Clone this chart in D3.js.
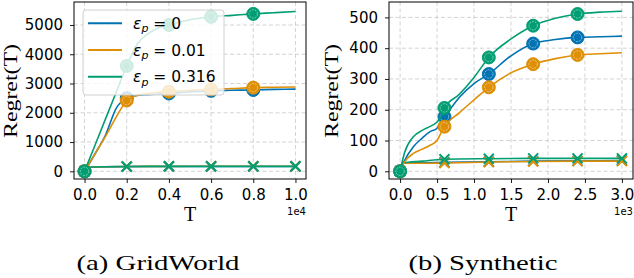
<!DOCTYPE html>
<html>
<head>
<meta charset="utf-8">
<script src="https://cdn.jsdelivr.net/npm/d3@7"></script>
<style>
  body { margin: 0; background: #fff; }
  svg { display: block; }
</style>
</head>
<body>
<div id="viz"></div>
<script>
// colours and legend text
var colors = ["#0173b2", "#de8f05", "#029e73"];
var legendLabels = ["0", "0.01", "0.316"];

// (a) GridWorld - algorithm with circle markers
var gwT = [0, 500, 1000, 1500, 2000, 2500, 3000, 3500, 4000, 5000, 6000, 7000, 8000, 9000, 10000];
var gwCircle = [
  [0, 600, 1250, 2150, 2500, 2590, 2620, 2640, 2660, 2720, 2750, 2770, 2780, 2800, 2810],
  [0, 600, 1200, 1850, 2420, 2600, 2660, 2700, 2720, 2770, 2800, 2830, 2860, 2870, 2880],
  [0, 900, 1800, 2700, 3600, 4350, 4700, 4900, 5000, 5180, 5280, 5330, 5380, 5420, 5460]
];
// (a) GridWorld - algorithm with x markers
var gwCrossT = [0, 50, 2000, 4000, 6000, 8000, 10000];
var gwCross = [
  [0, 140, 160, 165, 165, 165, 165],
  [0, 140, 165, 170, 175, 175, 175],
  [0, 140, 165, 170, 170, 170, 170]
];
var gwCircleMarks = [0, 2000, 4000, 6000, 8000];
var gwCrossMarks = [0, 2000, 4000, 6000, 8000, 10000];
var gwXTicks = [0, 2000, 4000, 6000, 8000, 10000];
var gwYTicks = [0, 1000, 2000, 3000, 4000, 5000];

// (b) Synthetic - circle markers
var synT = [0, 60, 180, 300, 400, 500, 560, 600, 800, 1000, 1200, 1500, 1800, 2100, 2400, 2700, 3000];
var synCircle = [
  [0, 35, 80, 108, 128, 140, 165, 177, 240, 285, 316, 375, 415, 428, 435, 437, 439],
  [0, 30, 58, 72, 84, 100, 128, 145, 190, 232, 273, 320, 348, 366, 378, 382, 385],
  [0, 60, 112, 133, 145, 160, 180, 206, 250, 305, 370, 430, 473, 497, 511, 517, 520]
];
// (b) Synthetic - x markers
var synCrossT = [0, 30, 300, 600, 1200, 1800, 2400, 3000];
var synCross = [
  [0, 26, 28, 29, 31, 33, 34, 35],
  [0, 26, 26, 27, 30, 32, 33, 33],
  [0, 27, 33, 39, 41, 42, 42, 42]
];
var synCircleMarks = [0, 600, 1200, 1800, 2400];
var synCrossMarks = [0, 600, 1200, 1800, 2400, 3000];
var synXTicks = [0, 500, 1000, 1500, 2000, 2500, 3000];
var synYTicks = [0, 100, 200, 300, 400, 500];

var w = 634, h = 278;

var svg = d3.select("#viz")
            .append("svg")
            .attr("width", w)
            .attr("height", h);

function drawPanel(p) {
  var x = d3.scaleLinear().domain(p.xDomain).range([p.left, p.right]);
  var y = d3.scaleLinear().domain(p.yDomain).range([p.bottom, p.top]);

  var g = svg.append("g");

  g.append("clipPath")
   .attr("id", p.id + "clip")
   .append("rect")
   .attr("x", p.left).attr("y", p.top)
   .attr("width", p.right - p.left).attr("height", p.bottom - p.top);

  // grid
  g.selectAll("line.gx")
   .data(p.xTicks).enter().append("line")
   .attr("x1", function(d){ return x(d); }).attr("x2", function(d){ return x(d); })
   .attr("y1", p.top).attr("y2", p.bottom)
   .style("stroke", "#c8c8c8").style("stroke-width", 0.8).style("stroke-dasharray", "4,2.5");
  g.selectAll("line.gy")
   .data(p.yTicks).enter().append("line")
   .attr("y1", function(d){ return y(d); }).attr("y2", function(d){ return y(d); })
   .attr("x1", p.left).attr("x2", p.right)
   .style("stroke", "#c8c8c8").style("stroke-width", 0.8).style("stroke-dasharray", "4,2.5");

  var plot = g.append("g").attr("clip-path", "url(#" + p.id + "clip)");

  var line = d3.line()
               .x(function(d){ return x(d[0]); })
               .y(function(d){ return y(d[1]); })
               .curve(d3.curveMonotoneX);

  function lookup(ts, vals, t) {
    return vals[ts.indexOf(t)];
  }

  [0, 1, 2].forEach(function(i) {
    var c = colors[i];
    var crossPts = p.crossT.map(function(t, k){ return [t, p.cross[i][k]]; });
    plot.append("path")
        .attr("d", line(crossPts))
        .style("fill", "none").style("stroke", c).style("stroke-width", 1.6);
    p.crossMarks.forEach(function(t) {
      var cx = x(t), cy = y(lookup(p.crossT, p.cross[i], t)), s = 5;
      plot.append("path")
          .attr("d", "M" + (cx - s) + "," + (cy - s) + "L" + (cx + s) + "," + (cy + s) +
                     "M" + (cx - s) + "," + (cy + s) + "L" + (cx + s) + "," + (cy - s))
          .style("stroke", c).style("stroke-width", 2).style("fill", "none");
    });
  });

  [0, 1, 2].forEach(function(i) {
    var c = colors[i];
    var pts = p.T.map(function(t, k){ return [t, p.circle[i][k]]; });
    plot.append("path")
        .attr("d", line(pts))
        .style("fill", "none").style("stroke", c).style("stroke-width", 1.6);
    p.circleMarks.forEach(function(t) {
      var cx = x(t), cy = y(lookup(p.T, p.circle[i], t));
      plot.append("circle")
          .attr("cx", cx).attr("cy", cy).attr("r", 6.5)
          .style("fill", c).style("stroke", c).style("stroke-width", 1);
      plot.append("circle")
          .attr("cx", cx).attr("cy", cy).attr("r", 4.2)
          .style("fill", "none").style("stroke", "#ffffff").style("stroke-opacity", 0.45)
          .style("stroke-width", 1).style("stroke-dasharray", "2,1");
    });
  });

  // axes
  var xAxis = d3.axisBottom(x).tickValues(p.xTicks).tickSize(4).tickPadding(6)
                .tickFormat(function(d){ return (d / p.xScale).toFixed(1); });
  var yAxis = d3.axisLeft(y).tickValues(p.yTicks).tickSize(4).tickPadding(7)
                .tickFormat(d3.format("d"));

  var gx = g.append("g").attr("transform", "translate(0," + p.bottom + ")").call(xAxis);
  var gy = g.append("g").attr("transform", "translate(" + p.left + ",0)").call(yAxis);
  [gx, gy].forEach(function(a) {
    a.select(".domain").remove();
    a.selectAll("line").style("stroke", "#000").style("stroke-width", 0.9);
    a.selectAll("text").style("font-family", "DejaVu Sans").style("font-size", "15px").style("fill", "#000");
  });

  g.append("rect")
   .attr("x", p.left).attr("y", p.top)
   .attr("width", p.right - p.left).attr("height", p.bottom - p.top)
   .style("fill", "none").style("stroke", "#000").style("stroke-width", 1);

  // offset text
  g.append("text")
   .attr("x", p.right).attr("y", 215)
   .attr("text-anchor", "end")
   .style("font-family", "DejaVu Sans").style("font-size", "10px")
   .text(p.offset);

  // axis labels
  g.append("text")
   .attr("x", (p.left + p.right) / 2).attr("y", 221)
   .attr("text-anchor", "middle")
   .style("font-family", "Liberation Serif").style("font-size", "20px")
   .text("T");

  g.append("text")
   .attr("transform", "translate(" + p.ylabelX + ",91) rotate(-90)")
   .attr("text-anchor", "middle")
   .attr("textLength", 94).attr("lengthAdjust", "spacingAndGlyphs")
   .style("font-family", "Liberation Serif").style("font-size", "19px")
   .text("Regret(T)");

  // caption
  g.append("text")
   .attr("x", p.capX).attr("y", 270)
   .attr("text-anchor", "middle")
   .attr("textLength", p.capW).attr("lengthAdjust", "spacingAndGlyphs")
   .style("font-family", "Liberation Serif").style("font-size", "22px")
   .text(p.caption);

  if (p.legend) {
    var lg = g.append("g");
    lg.append("rect")
      .attr("x", 83).attr("y", 10).attr("width", 141).attr("height", 85).attr("rx", 3)
      .style("fill", "#fff").style("fill-opacity", 0.8)
      .style("stroke", "#d0d0d0").style("stroke-width", 1);
    legendLabels.forEach(function(lab, i) {
      var ly = 23.3 + i * 26.7;
      lg.append("line")
        .attr("x1", 88).attr("x2", 122).attr("y1", ly).attr("y2", ly)
        .style("stroke", colors[i]).style("stroke-width", 2);
      var t = lg.append("text")
                .attr("x", 133).attr("y", ly + 5.5)
                .style("font-family", "DejaVu Sans").style("font-size", "15.5px");
      t.append("tspan").style("font-style", "italic").text("ε");
      t.append("tspan").style("font-style", "italic").style("font-size", "11px").attr("dy", 3.5).text("p");
      t.append("tspan").attr("dy", -3.5).text(" = " + lab);
    });
  }
}

drawPanel({
  id: "gw", left: 74, right: 306, top: 2, bottom: 179,
  xDomain: [-500, 10500], yDomain: [-263, 5786],
  T: gwT, circle: gwCircle, crossT: gwCrossT, cross: gwCross,
  circleMarks: gwCircleMarks, crossMarks: gwCrossMarks,
  xTicks: gwXTicks, yTicks: gwYTicks, xScale: 10000, offset: "1e4",
  ylabelX: 17, capX: 158, capW: 163, caption: "(a) GridWorld", legend: true
});

drawPanel({
  id: "syn", left: 389, right: 633, top: 2, bottom: 179,
  xDomain: [-150, 3150], yDomain: [-25, 550],
  T: synT, circle: synCircle, crossT: synCrossT, cross: synCross,
  circleMarks: synCircleMarks, crossMarks: synCrossMarks,
  xTicks: synXTicks, yTicks: synYTicks, xScale: 1000, offset: "1e3",
  ylabelX: 337.5, capX: 483, capW: 149, caption: "(b) Synthetic", legend: false
});
</script>
</body>
</html>
